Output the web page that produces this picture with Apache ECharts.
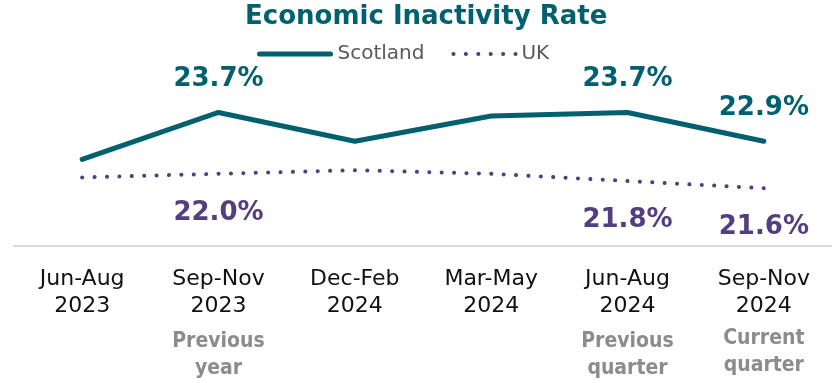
<!DOCTYPE html>
<html>
<head>
<meta charset="utf-8">
<script src="https://cdn.jsdelivr.net/npm/echarts@6/dist/echarts.min.js"></script>
<style>
  html, body { margin: 0; padding: 0; background: #ffffff; }
  #chart { width: 832px; height: 383px; }
</style>
</head>
<body>
<div id="chart"></div>
<script>
// Rolling three-month periods shown on the category axis
const categories = ['Jun-Aug\n2023', 'Sep-Nov\n2023', 'Dec-Feb\n2024', 'Mar-May\n2024', 'Jun-Aug\n2024', 'Sep-Nov\n2024'];
// Comparison notes printed under selected periods
const notes = ['', 'Previous\nyear', '', '', 'Previous\nquarter', 'Current\nquarter'];
// Economic inactivity rate (%), people aged 16-64
const scotlandValues = [22.4, 23.7, 22.9, 23.6, 23.7, 22.9];
const ukValues = [21.9, 22.0, 22.1, 22.0, 21.8, 21.6];

const TEAL = '#00606F';
const PURPLE = '#523E80';
const FONT = '"DejaVu Sans", Verdana, sans-serif';
const FONT_COND = '"DejaVu Sans Condensed", "DejaVu Sans", sans-serif';

// Value labels only on the periods that carry a comparison note
function withLabels(values) {
  return values.map((v, i) => ({ value: v, label: { show: notes[i] !== '' } }));
}

const chart = echarts.init(document.getElementById('chart'), null, { renderer: 'canvas' });

chart.setOption({
  animation: false,
  backgroundColor: '#ffffff',
  title: {
    text: 'Economic Inactivity Rate',
    left: 245,
    top: 4,
    padding: 0,
    textStyle: { fontFamily: FONT, fontSize: 26, fontWeight: 'bold', color: TEAL }
  },
  legend: {
    left: 257,
    top: 44,
    padding: 0,
    itemWidth: 71,
    itemHeight: 14,
    itemGap: 27,
    itemStyle: { opacity: 0 },
    textStyle: { fontFamily: FONT, fontSize: 20, color: '#595959', padding: [0, 0, 0, 2] },
    data: [
      { name: 'Scotland', lineStyle: { width: 5 } },
      { name: 'UK', lineStyle: { width: 4 }, textStyle: { padding: [0, 0, 0, -8] } }
    ]
  },
  grid: { left: 14, right: 0, top: 65.5, bottom: 137, containLabel: false },
  xAxis: {
    type: 'category',
    data: categories,
    boundaryGap: true,
    axisLine: { show: true, lineStyle: { color: '#D9D9D9', width: 2 } },
    axisTick: { show: false },
    axisLabel: {
      interval: 0,
      margin: 20,
      formatter: (value, i) => {
        const lines = value.split('\n').map(l => '{t|' + l + '}');
        if (notes[i]) {
          const gapKey = i === categories.length - 1 ? 'gapTight' : 'gap';
          lines.push('{' + gapKey + '| }');
          notes[i].split('\n').forEach(l => lines.push('{n|' + l + '}'));
        }
        return lines.join('\n');
      },
      rich: {
        t: { fontFamily: FONT, fontSize: 22, lineHeight: 26.6, color: '#111111' },
        n: { fontFamily: FONT_COND, fontSize: 21, fontWeight: 'bold', lineHeight: 26.6, color: '#8C8C8C' },
        gap: { fontSize: 1, lineHeight: 9 },
        gapTight: { fontSize: 1, lineHeight: 6 }
      }
    }
  },
  yAxis: {
    type: 'value',
    min: 20,
    max: 25,
    show: false,
    splitLine: { show: false }
  },
  series: [
    {
      name: 'Scotland',
      type: 'line',
      data: withLabels(scotlandValues),
      symbol: 'circle',
      symbolSize: 0,
      showSymbol: true,
      silent: true,
      itemStyle: { color: TEAL },
      lineStyle: { color: TEAL, width: 5, cap: 'round', join: 'round' },
      label: {
        position: 'top',
        distance: 20,
        fontFamily: FONT,
        fontSize: 26,
        fontWeight: 'bold',
        color: TEAL,
        formatter: p => p.value.toFixed(1) + '%'
      },
      emphasis: { disabled: true }
    },
    {
      name: 'UK',
      type: 'line',
      data: withLabels(ukValues),
      symbol: 'circle',
      symbolSize: 0,
      showSymbol: true,
      silent: true,
      itemStyle: { color: PURPLE },
      lineStyle: { color: PURPLE, width: 4, type: [0.1, 12.3], cap: 'round' },
      label: {
        position: 'bottom',
        distance: 26,
        fontFamily: FONT,
        fontSize: 26,
        fontWeight: 'bold',
        color: PURPLE,
        formatter: p => p.value.toFixed(1) + '%'
      },
      emphasis: { disabled: true }
    }
  ]
});
</script>
</body>
</html>
